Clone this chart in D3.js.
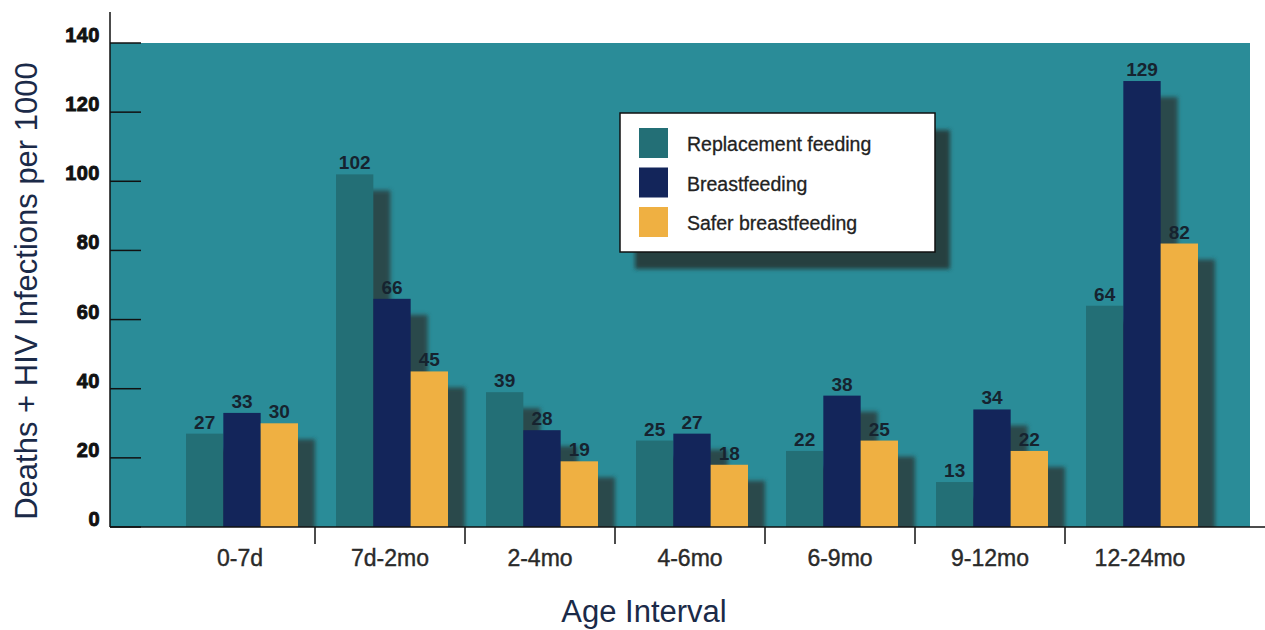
<!DOCTYPE html>
<html>
<head>
<meta charset="utf-8">
<script src="https://cdn.jsdelivr.net/npm/d3@7"></script>
<style>
  body { margin: 0; background: #fff; }
  svg { display: block; }
  .tick-y { font-family: "Liberation Sans", Arial, sans-serif; font-weight: bold; font-size: 20px; fill: #111; stroke: #111; stroke-width: 0.9; letter-spacing: 0.5px; }
  .val { font-family: "Liberation Sans", Arial, sans-serif; font-weight: bold; font-size: 19px; fill: #16232f; }
  .cat { font-family: "Liberation Sans", Arial, sans-serif; font-size: 23px; fill: #2a2a2a; stroke: #2a2a2a; stroke-width: 0.4; }
  .leg { font-family: "Liberation Sans", Arial, sans-serif; font-size: 19.5px; fill: #222; stroke: #222; stroke-width: 0.3; }
  .titre { font-family: "Liberation Sans", Arial, sans-serif; font-size: 31px; fill: #1b2a48; }
</style>
</head>
<body>
<svg id="chart" width="1265" height="630"></svg>
<script>
// donnees
let categories = ["0-7d", "7d-2mo", "2-4mo", "4-6mo", "6-9mo", "9-12mo", "12-24mo"];
let series = ["Replacement feeding", "Breastfeeding", "Safer breastfeeding"];
let replacement = [27, 102, 39, 25, 22, 13, 64];
let breastfeeding = [33, 66, 28, 27, 38, 34, 129];
let safer = [30, 45, 19, 18, 25, 22, 82];
let yTicks = [0, 20, 40, 60, 80, 100, 120, 140];

let couleurs = ["#236f76", "#13255a", "#efb042"];
let valeurs = [replacement, breastfeeding, safer];

let svg = d3.select("#chart");

let plotLeft = 110, plotRight = 1250, plotTop = 43, plotBottom = 527;

let y = d3.scaleLinear().domain([0, 140]).range([plotBottom, plotTop]);
let x0 = d3.scaleBand().domain(categories).range([165, 1215]);
let x1 = d3.scaleBand().domain(series).range([21, 133]);

// filtre pour l'ombre floue
let defs = svg.append("defs");
defs.append("filter").attr("id", "flou")
  .attr("x", "-20%").attr("y", "-20%").attr("width", "140%").attr("height", "140%")
  .append("feGaussianBlur").attr("stdDeviation", 2);

// fond de la zone de tracé
svg.append("rect")
  .attr("x", plotLeft).attr("y", plotTop)
  .attr("width", plotRight - plotLeft).attr("height", plotBottom - plotTop)
  .attr("fill", "#2a8c98");

// tableau plat pour les barres
let barres = [];
categories.forEach((c, i) => {
  series.forEach((s, j) => {
    barres.push({ cat: c, serie: s, v: valeurs[j][i], idx: j });
  });
});

let ombreDx = 17, ombreDy = 16;

// ombres (clip dans la zone)
defs.append("clipPath").attr("id", "zone")
  .append("rect").attr("x", plotLeft).attr("y", plotTop)
  .attr("width", plotRight - plotLeft).attr("height", plotBottom - plotTop);

svg.append("g").attr("clip-path", "url(#zone)")
  .append("g").attr("filter", "url(#flou)")
  .selectAll("rect")
  .data(barres)
  .join("rect")
  .attr("x", d => x0(d.cat) + x1(d.serie) + ombreDx)
  .attr("y", d => y(d.v) + ombreDy)
  .attr("width", x1.bandwidth())
  .attr("height", d => plotBottom - y(d.v))
  .attr("fill", "#2a4a4c");

// barres
svg.append("g")
  .selectAll("rect")
  .data(barres)
  .join("rect")
  .attr("x", d => x0(d.cat) + x1(d.serie))
  .attr("y", d => y(d.v))
  .attr("width", x1.bandwidth())
  .attr("height", d => plotBottom - y(d.v))
  .attr("fill", d => couleurs[d.idx]);

// valeurs au dessus
svg.append("g")
  .selectAll("text")
  .data(barres)
  .join("text")
  .attr("class", "val")
  .attr("x", d => x0(d.cat) + x1(d.serie) + x1.bandwidth() / 2)
  .attr("y", d => y(d.v) - 5)
  .attr("text-anchor", "middle")
  .text(d => d.v);

// axe y
svg.append("line")
  .attr("x1", plotLeft).attr("x2", plotLeft)
  .attr("y1", 12).attr("y2", plotBottom)
  .attr("stroke", "#111").attr("stroke-width", 1.5);

svg.selectAll(".tiret")
  .data(yTicks)
  .join("line")
  .attr("class", "tiret")
  .attr("x1", plotLeft).attr("x2", plotLeft + 31)
  .attr("y1", d => y(d)).attr("y2", d => y(d))
  .attr("stroke", "#111").attr("stroke-width", 1.5);

svg.selectAll(".tick-y")
  .data(yTicks)
  .join("text")
  .attr("class", "tick-y")
  .attr("x", 100)
  .attr("y", d => y(d) - 1)
  .attr("text-anchor", "end")
  .text(d => d);

// axe x
svg.append("line")
  .attr("x1", plotLeft).attr("x2", 1265)
  .attr("y1", plotBottom).attr("y2", plotBottom)
  .attr("stroke", "#111").attr("stroke-width", 1.5);

svg.selectAll(".sep")
  .data(categories.slice(1))
  .join("line")
  .attr("class", "sep")
  .attr("x1", d => x0(d)).attr("x2", d => x0(d))
  .attr("y1", plotBottom).attr("y2", plotBottom + 17)
  .attr("stroke", "#111").attr("stroke-width", 1.5);

svg.selectAll(".cat")
  .data(categories)
  .join("text")
  .attr("class", "cat")
  .attr("x", d => x0(d) + x0.bandwidth() / 2)
  .attr("y", 566)
  .attr("text-anchor", "middle")
  .text(d => d);

// titres
svg.append("text")
  .attr("class", "titre")
  .attr("x", 644).attr("y", 622)
  .attr("text-anchor", "middle")
  .text("Age Interval");

svg.append("text")
  .attr("class", "titre")
  .attr("transform", "translate(37,291) rotate(-90)")
  .attr("text-anchor", "middle")
  .text("Deaths + HIV Infections per 1000");

// légende
let leg = svg.append("g").attr("transform", "translate(620,113)");
leg.append("rect")
  .attr("x", 15).attr("y", 17).attr("width", 315).attr("height", 139)
  .attr("fill", "#263f41").attr("filter", "url(#flou)");
leg.append("rect")
  .attr("width", 315).attr("height", 139)
  .attr("fill", "#fff").attr("stroke", "#111").attr("stroke-width", 1.5);

let items = leg.selectAll(".item")
  .data(series)
  .join("g")
  .attr("class", "item")
  .attr("transform", (d, i) => `translate(19,${15 + i * 39.5})`);

items.append("rect")
  .attr("width", 29).attr("height", 30)
  .attr("fill", (d, i) => couleurs[i]);

items.append("text")
  .attr("class", "leg")
  .attr("x", 48).attr("y", 23)
  .text(d => d);
</script>
</body>
</html>
